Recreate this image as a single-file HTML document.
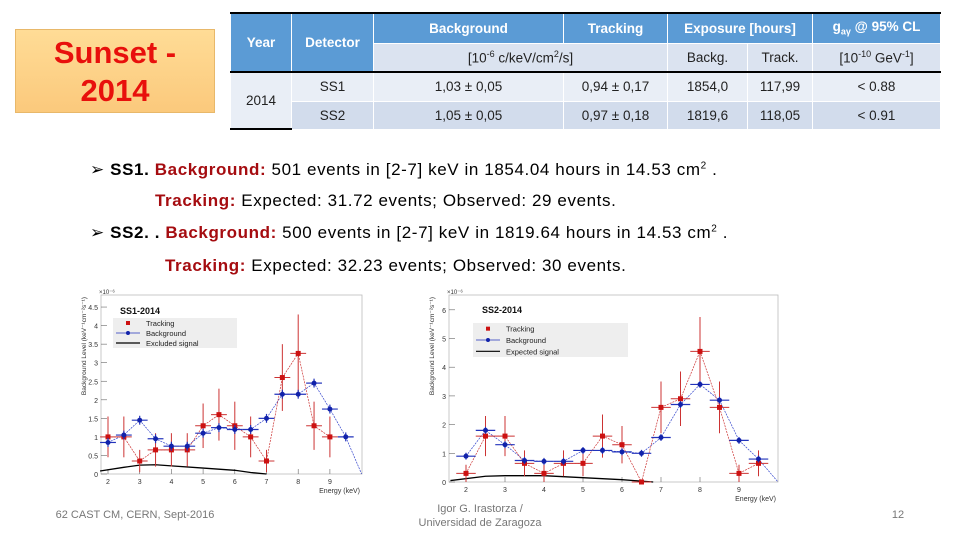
<!DOCTYPE html>
<html><head><meta charset="utf-8"><style>
body{margin:0;width:960px;height:540px;background:#fff;position:relative;overflow:hidden;font-family:"Liberation Sans",Arial,sans-serif}
.abs{position:absolute}
#sunset{left:15px;top:29px;width:200px;height:84px;background:linear-gradient(#ffdc96,#fbc97c);border:1px solid #e8b86a;color:#e8100c;font-weight:bold;font-size:31px;text-align:center;line-height:38px;padding-top:4px;box-sizing:border-box}
table{position:absolute;left:230px;top:12px;border-collapse:collapse;font-family:"Liberation Sans",sans-serif;font-size:13.5px;color:#222;table-layout:fixed}
td{text-align:center;padding:0;border:1px solid #fff;white-space:nowrap}
.h1{background:#5b9bd5;color:#fff;font-weight:bold}
.h2{background:#dbe3f0}
.r1{background:#e9eef6}.r2{background:#d2dcec}
.txt{font-size:17px;letter-spacing:0.6px;color:#000;white-space:nowrap}
.red{color:#a50c10;font-weight:bold}
.foot{font-size:11px;color:#777;text-align:center}
</style></head><body>
<div id="sunset" class="abs">Sunset -<br>2014</div>
<table>
<colgroup><col style="width:61px"><col style="width:82px"><col style="width:190px"><col style="width:104px"><col style="width:80px"><col style="width:65px"><col style="width:128px"></colgroup>
<tr style="height:30px;border-top:2px solid #000"><td class="h1" rowspan="2">Year</td><td class="h1" rowspan="2">Detector</td><td class="h1">Background</td><td class="h1">Tracking</td><td class="h1" colspan="2">Exposure [hours]</td><td class="h1">g<sub style="font-size:9px">aγ</sub> @ 95% CL</td></tr>
<tr style="height:29px;border-bottom:2px solid #000"><td class="h2" colspan="2">[10<sup style="font-size:9px">-6</sup> c/keV/cm<sup style="font-size:9px">2</sup>/s]</td><td class="h2">Backg.</td><td class="h2">Track.</td><td class="h2">[10<sup style="font-size:9px">-10</sup> GeV<sup style="font-size:9px">-1</sup>]</td></tr>
<tr style="height:29px"><td class="r1" rowspan="2" style="border-bottom:2px solid #000">2014</td><td class="r1">SS1</td><td class="r1">1,03 ± 0,05</td><td class="r1">0,94 ± 0,17</td><td class="r1">1854,0</td><td class="r1">117,99</td><td class="r1">&lt; 0.88</td></tr>
<tr style="height:28px"><td class="r2">SS2</td><td class="r2">1,05 ± 0,05</td><td class="r2">0,97 ± 0,18</td><td class="r2">1819,6</td><td class="r2">118,05</td><td class="r2">&lt; 0.91</td></tr>
</table>
<div class="abs txt" style="left:90px;top:160px">➢ <b>SS1.</b> <span class="red">Background:</span> 501 events in [2-7] keV in 1854.04 hours in 14.53 cm<sup style="font-size:10px">2</sup> .</div>
<div class="abs txt" style="left:155px;top:191px"><span class="red">Tracking:</span> Expected: 31.72 events; Observed: 29 events.</div>
<div class="abs txt" style="left:90px;top:223px">➢ <b>SS2. .</b> <span class="red">Background:</span> 500 events in [2-7] keV in 1819.64 hours in 14.53 cm<sup style="font-size:10px">2</sup> .</div>
<div class="abs txt" style="left:165px;top:256px"><span class="red">Tracking:</span> Expected: 32.23 events; Observed: 30 events.</div>
<svg id="charts" class="abs" style="left:0;top:0" width="960" height="540"></svg>
<div class="abs foot" style="left:40px;top:509px;width:190px">62 CAST CM, CERN, Sept-2016</div>
<div class="abs foot" style="left:400px;top:502px;width:160px;line-height:14px">Igor G. Irastorza /<br>Universidad de Zaragoza</div>
<div class="abs foot" style="left:888px;top:509px;width:20px">12</div>
<script>
const ss1Energy=[2,2.5,3,3.5,4,4.5,5,5.5,6,6.5,7,7.5,8,8.5,9];
const ss1Tracking=[1.0,1.0,0.35,0.65,0.65,0.65,1.3,1.6,1.3,1.0,0.35,2.6,3.25,1.3,1.0];
const ss1TrackErr=[0.55,0.55,0.3,0.45,0.45,0.45,0.6,0.7,0.65,0.55,0.3,0.9,1.05,0.65,0.55];
const ss1BgEnergy=[2,2.5,3,3.5,4,4.5,5,5.5,6,6.5,7,7.5,8,8.5,9,9.5];
const ss1Background=[0.85,1.05,1.45,0.95,0.75,0.75,1.1,1.25,1.2,1.2,1.5,2.15,2.15,2.45,1.75,1.0];
const ss1SigE=[1.75,2.5,3,3.5,4,5,6,6.5,7];
const ss1Signal=[0.08,0.18,0.24,0.25,0.22,0.16,0.1,0.04,0];
const ss1YTicks=[0,0.5,1,1.5,2,2.5,3,3.5,4,4.5];
const ss1XTicks=[2,3,4,5,6,7,8,9];

const ss2Energy=[2,2.5,3,3.5,4,4.5,5,5.5,6,6.5,7,7.5,8,8.5,9,9.5];
const ss2Tracking=[0.3,1.6,1.6,0.65,0.3,0.65,0.65,1.6,1.3,0,2.6,2.9,4.55,2.6,0.3,0.65];
const ss2TrackErr=[0.3,0.7,0.7,0.45,0.3,0.45,0.45,0.75,0.65,0,0.9,0.95,1.2,0.9,0.3,0.45];
const ss2Background=[0.9,1.8,1.3,0.75,0.72,0.72,1.1,1.1,1.05,1.0,1.55,2.7,3.4,2.85,1.45,0.8];
const ss2SigE=[1.6,2.5,3,4,5,6,6.8];
const ss2Signal=[0.05,0.2,0.22,0.22,0.15,0.08,0];
const ss2YTicks=[0,1,2,3,4,5,6];
const ss2XTicks=[2,3,4,5,6,7,8,9];

const NS='http://www.w3.org/2000/svg';
const svg=document.getElementById('charts');
function mk(tag,attrs,parent){const e=document.createElementNS(NS,tag);for(const k in attrs)e.setAttribute(k,attrs[k]);(parent||svg).appendChild(e);return e;}

function chart(cfg){
  const g=mk('g',{});
  
  
  const X=e=>cfg.x0+(e-2)*cfg.kx, Y=v=>cfg.y0-v*cfg.ky;
  const fr=mk('rect',{x:cfg.left,y:cfg.top,width:cfg.right-cfg.left,height:cfg.y0-cfg.top,fill:'#fff',stroke:'#bbb','stroke-width':0.8},g);
  
  
  cfg.yTicks.forEach(v=>{mk('line',{x1:cfg.left,x2:cfg.left+6,y1:Y(v),y2:Y(v),stroke:'#666','stroke-width':0.6},g);
    const t=mk('text',{x:cfg.left-3,y:Y(v)+3,'font-size':7,'text-anchor':'end',fill:'#333'},g);t.textContent=v;
    });
  cfg.xTicks.forEach(v=>{mk('line',{x1:X(v),x2:X(v),y1:cfg.y0,y2:cfg.y0-5,stroke:'#666','stroke-width':0.6},g);
    const t=mk('text',{x:X(v),y:cfg.y0+10,'font-size':7,'text-anchor':'middle',fill:'#333'},g);t.textContent=v;
    });
  const xt=mk('text',{x:cfg.right-2,y:cfg.y0+19,'font-size':7,'text-anchor':'end',fill:'#333'},g);xt.textContent='Energy (keV)';
  
  const yt=mk('text',{x:0,y:0,'font-size':6.5,'text-anchor':'end',fill:'#333',transform:`translate(${cfg.left-15},${cfg.top+2}) rotate(-90)`},g);yt.textContent='Background Level (keV⁻¹cm⁻²s⁻¹)';
  
  const ex=mk('text',{x:cfg.left-2,y:cfg.top-1,'font-size':6,fill:'#333'},g);ex.textContent='×10⁻⁶';
  const sp=mk('polyline',{points:cfg.sigE.map((e,i)=>X(e)+','+Y(cfg.sig[i])).join(' '),fill:'none',stroke:'#000','stroke-width':1.3},g);
  
  const bp=mk('polyline',{points:cfg.bgE.map((e,i)=>X(e)+','+Y(cfg.bg[i])).join(' ')+' '+X(10)+','+Y(0),fill:'none',stroke:'#3344cc','stroke-width':0.7,'stroke-dasharray':'2,1'},g);
  
  const tp=mk('polyline',{points:cfg.trE.map((e,i)=>X(e)+','+Y(cfg.tr[i])).join(' '),fill:'none',stroke:'#cc3333','stroke-width':0.7,'stroke-dasharray':'2,1'},g);
  
  cfg.trE.forEach((e,i)=>{const v=cfg.tr[i],er=cfg.err[i];
    mk('line',{x1:X(e-0.25),x2:X(e+0.25),y1:Y(v),y2:Y(v),stroke:'#cc3333','stroke-width':1},g);
    mk('line',{x1:X(e),x2:X(e),y1:Y(v-er),y2:Y(v+er),stroke:'#cc3333','stroke-width':1},g);
    const p=mk('rect',{x:X(e)-2.5,y:Y(v)-2.5,width:5,height:5,fill:'#cc1111'},g);
    });
  cfg.bgE.forEach((e,i)=>{const v=cfg.bg[i];
    mk('line',{x1:X(e-0.25),x2:X(e+0.25),y1:Y(v),y2:Y(v),stroke:'#2233bb','stroke-width':1.2},g);
    mk('line',{x1:X(e),x2:X(e),y1:Y(v-0.12),y2:Y(v+0.12),stroke:'#2233bb','stroke-width':1.2},g);
    const p=mk('circle',{cx:X(e),cy:Y(v),r:2.5,fill:'#1122aa'},g);
    });
  const L=cfg.leg;
  const lg=mk('g',{},g);
  mk('rect',{x:L[0],y:L[1],width:L[2],height:L[3],fill:'#eee'},lg);
  const ti=mk('text',{x:cfg.title[0],y:cfg.title[1],'font-size':9,'font-weight':'bold',fill:'#111'},g);ti.textContent=cfg.titleText;
  
  const rh=L[3]/3;
  cfg.labels.forEach((lab,i)=>{const cy=L[1]+rh*(i+0.5);
    if(i==0){mk('rect',{x:L[0]+13,y:cy-2,width:4,height:4,fill:'#cc1111'},lg);}
    if(i==1){mk('line',{x1:L[0]+3,x2:L[0]+27,y1:cy,y2:cy,stroke:'#2233bb','stroke-width':0.8},lg);mk('circle',{cx:L[0]+15,cy:cy,r:2,fill:'#1122aa'},lg);}
    if(i==2){mk('line',{x1:L[0]+3,x2:L[0]+27,y1:cy,y2:cy,stroke:'#000','stroke-width':1.2},lg);}
    const t=mk('text',{x:L[0]+33,y:cy+3,'font-size':7.5,fill:'#222'},lg);t.textContent=lab;
    });
}
chart({name:'ss1-chart',x0:108,kx:31.7,y0:474,ky:37.1,left:101,right:362,top:295,yTicks:ss1YTicks,xTicks:ss1XTicks,
  trE:ss1Energy,tr:ss1Tracking,err:ss1TrackErr,bgE:ss1BgEnergy,bg:ss1Background,sigE:ss1SigE,sig:ss1Signal,
  leg:[113,318,124,30],title:[120,314],titleText:'SS1-2014',labels:['Tracking','Background','Excluded signal']});
chart({name:'ss2-chart',x0:466,kx:39,y0:482,ky:28.7,left:449,right:778,top:295,yTicks:ss2YTicks,xTicks:ss2XTicks,
  trE:ss2Energy,tr:ss2Tracking,err:ss2TrackErr,bgE:ss2Energy,bg:ss2Background,sigE:ss2SigE,sig:ss2Signal,
  leg:[473,323,155,34],title:[482,313],titleText:'SS2-2014',labels:['Tracking','Background','Expected signal']});
</script>
</body></html>
